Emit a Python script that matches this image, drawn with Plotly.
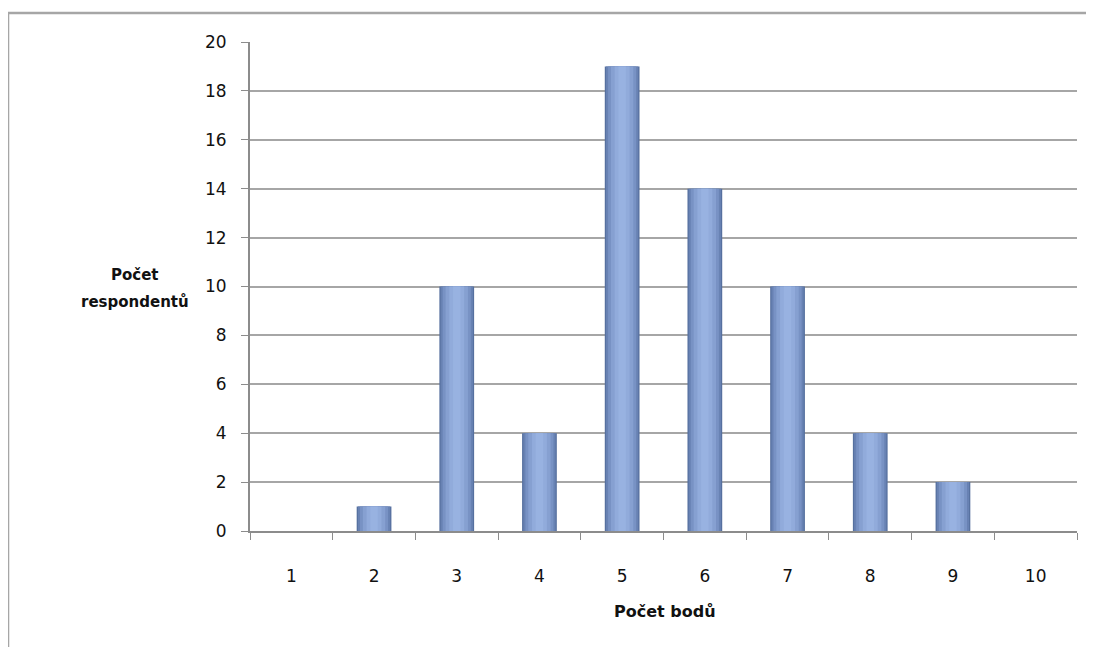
import plotly.graph_objects as go

categories = ["1", "2", "3", "4", "5", "6", "7", "8", "9", "10"]
respondents = [0, 1, 10, 4, 19, 14, 10, 4, 2, 0]
y_ticks = [0, 2, 4, 6, 8, 10, 12, 14, 16, 18, 20]

fig = go.Figure()

# layered bars to imitate the horizontal gradient of the original
layers = [
    (0.42, "#56709f"),
    (0.39, "#6882b3"),
    (0.34, "#7892c4"),
    (0.27, "#86a0d1"),
    (0.18, "#91abdb"),
    (0.09, "#98b2e1"),
]
for w, col in layers:
    fig.add_trace(go.Bar(
        x=categories, y=respondents, width=w,
        marker=dict(color=col, line=dict(width=0)),
        showlegend=False, hoverinfo="x+y",
    ))

FONT = "DejaVu Sans, Verdana, sans-serif"
TXT = "#111111"

fig.update_layout(
    barmode="overlay",
    width=1094, height=647,
    margin=dict(l=242, r=25, t=34, b=124),
    paper_bgcolor="white", plot_bgcolor="white",
    font=dict(family=FONT, size=17, color=TXT),
    xaxis=dict(
        type="category", tickson="boundaries", ticks="outside", ticklen=7,
        tickcolor="#8c8c8c", showline=True, linecolor="#8c8c8c", linewidth=2,
        showgrid=False, ticklabelstandoff=29, range=[-0.5, 9.5],
        tickfont=dict(size=17, color=TXT),
    ),
    yaxis=dict(
        range=[0, 20], tickvals=y_ticks, ticks="outside", ticklen=7,
        tickcolor="#8c8c8c", showline=True, linecolor="#8c8c8c", linewidth=2,
        showgrid=True, gridcolor="#a6a6a6", gridwidth=1.5, zeroline=False,
        ticklabelstandoff=11, tickfont=dict(size=17, color=TXT),
    ),
    shapes=[dict(
        type="rect", xref="paper", yref="paper",
        x0=-0.2926, y0=-0.5, x1=1.2, y1=1.0593,
        line=dict(color="#a6a6a6", width=2.5), fillcolor="rgba(0,0,0,0)",
        layer="below",
    )],
    annotations=[
        dict(text="<b>Počet</b>", xref="paper", yref="paper",
             x=(135 - 250) / 827, y=(531 - 275) / 489, showarrow=False,
             xanchor="center", yanchor="middle",
             font=dict(size=15, color=TXT, family=FONT)),
        dict(text="<b>respondentů</b>", xref="paper", yref="paper",
             x=(135 - 250) / 827, y=(531 - 302) / 489, showarrow=False,
             xanchor="center", yanchor="middle",
             font=dict(size=15, color=TXT, family=FONT)),
        dict(text="<b>Počet bodů</b>", xref="paper", yref="paper",
             x=(665 - 250) / 827, y=(531 - 611) / 489, showarrow=False,
             xanchor="center", yanchor="middle",
             font=dict(size=16, color=TXT, family=FONT)),
    ],
)

fig.write_html("out.html")
